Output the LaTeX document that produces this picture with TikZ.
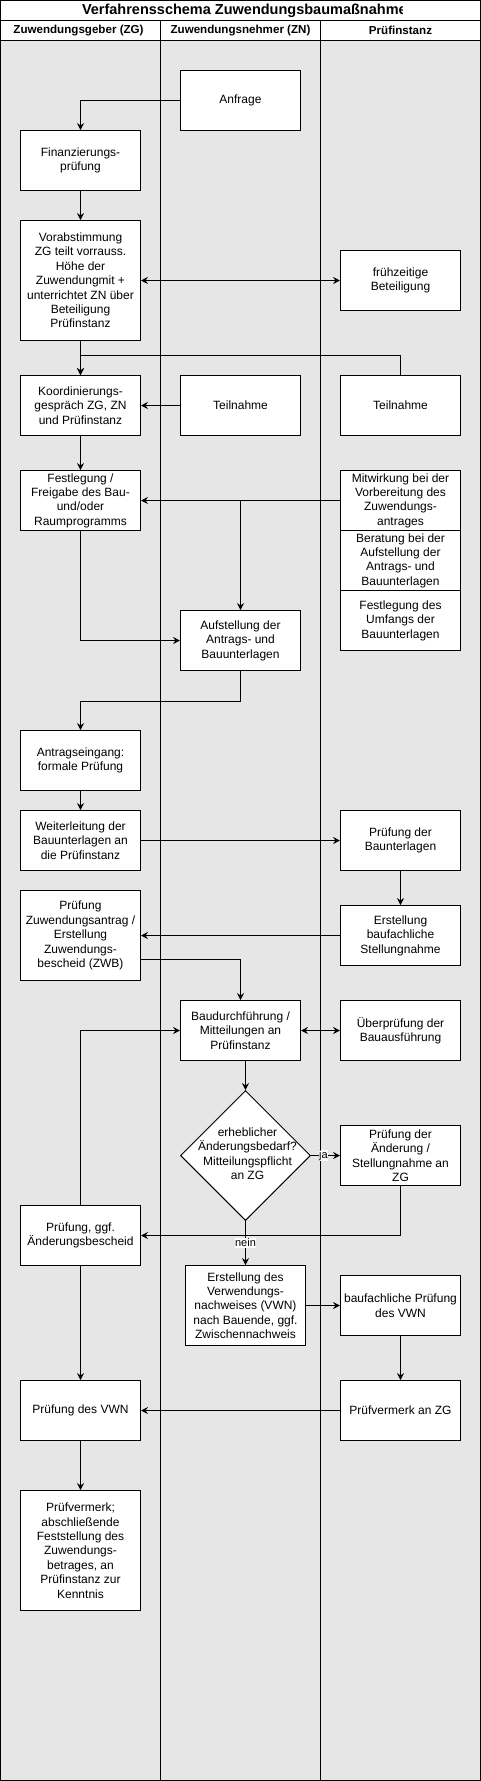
\documentclass[tikz,border=0pt]{standalone}
\usepackage{fontspec}
\setmainfont{Liberation Sans}
\usetikzlibrary{arrows.meta,shapes.geometric}
\definecolor{lanegray}{HTML}{E6E6E6}

\begin{document}
\begin{tikzpicture}[
    x=1pt, y=-1pt, line width=1pt,
    box/.style={draw, fill=white, minimum width=120pt, minimum height=60pt, inner sep=1pt, align=center, font=\fontsize{12}{14.4}\selectfont},
    dec/.style={draw, fill=white, diamond, minimum width=130pt, minimum height=130pt, inner sep=0pt},
    txt/.style={align=center, inner sep=0pt, font=\fontsize{12}{14.4}\selectfont},
    hdr/.style={font=\bfseries\fontsize{11.6}{14}\selectfont},
    arr/.style={-{Stealth[length=7pt, width=7pt, inset=2.5pt]}},
    darr/.style={{Stealth[length=7pt, width=7pt, inset=2.5pt]}-{Stealth[length=7pt, width=7pt, inset=2.5pt]}},
    elbl/.style={fill=white, inner sep=0.5pt, font=\fontsize{11}{13}\selectfont},
  ]
    % Lane centers
    \def\lzg{80}    % Zuwendungsgeber
    \def\lzn{240}   % Zuwendungsnehmer
    \def\lpi{400}   % Pruefinstanz

    \useasboundingbox (-0.5,-0.5) rectangle (480.5,1780.5);

    % === Pool and lanes ===
    \fill[lanegray] (0,40) rectangle (480,1780);
    \draw (0,0) rectangle (480,1780);
    \draw (0,20) -- (480,20);
    \draw (0,40) -- (480,40);
    \draw (160,20) -- (160,1780);
    \draw (320,20) -- (320,1780);

    \begin{scope}
      \clip (0,0) rectangle (402,20);
      \node[font=\bfseries\fontsize{14.5}{16}\selectfont, anchor=west, inner sep=0pt] (title) at (81,10) {Verfahrensschema Zuwendungsbaumaßnahme};
    \end{scope}
    \node[hdr] (hZG) at (78, 30) {Zuwendungsgeber (ZG)};
    \node[hdr] (hZN) at (\lzn, 30) {Zuwendungsnehmer (ZN)};
    \node[hdr] (hPI) at (\lpi, 30) {Prüfinstanz};

    % === Antrag ===
    \node[box] (anfrage) at (\lzn, 100) {Anfrage};
    \node[box] (finanz) at (\lzg, 160) {Finanzierungs-\\prüfung};
    \node[box, minimum height=120pt] (vorab) at (\lzg, 280) {Vorabstimmung\\ZG teilt vorrauss.\\Höhe der\\Zuwendungmit +\\unterrichtet ZN über\\Beteiligung\\Prüfinstanz};
    \node[box] (frueh) at (\lpi, 280) {frühzeitige\\Beteiligung};

    \node[box] (koord) at (\lzg, 405) {Koordinierungs-\\gespräch ZG, ZN\\und Prüfinstanz};
    \node[box] (teilnZN) at (\lzn, 405) {Teilnahme};
    \node[box] (teilnPI) at (\lpi, 405) {Teilnahme};

    \node[box] (fest) at (\lzg, 500) {Festlegung /\\Freigabe des Bau-\\und/oder\\Raumprogramms};
    \node[box] (mitw) at (\lpi, 500) {Mitwirkung bei der\\Vorbereitung des\\Zuwendungs-\\antrages};
    \node[box] (berat) at (\lpi, 560) {Beratung bei der\\Aufstellung der\\Antrags- und\\Bauunterlagen};
    \node[box] (umf) at (\lpi, 620) {Festlegung des\\Umfangs der\\Bauunterlagen};
    \node[box] (aufst) at (\lzn, 640) {Aufstellung der\\Antrags- und\\Bauunterlagen};

    \node[box] (antrag) at (\lzg, 760) {Antragseingang:\\formale Prüfung};
    \node[box] (weiter) at (\lzg, 840) {Weiterleitung der\\Bauunterlagen an\\die Prüfinstanz};
    \node[box] (prbau) at (\lpi, 840) {Prüfung der\\Baunterlagen};
    \node[box] (erstbau) at (\lpi, 935) {Erstellung\\baufachliche\\Stellungnahme};
    \node[box, minimum height=90pt] (pruefzw) at (\lzg, 935) {Prüfung\\Zuwendungsantrag /\\Erstellung\\Zuwendungs-\\bescheid (ZWB)};

    % === Bau ===
    \node[box] (baud) at (\lzn, 1030) {Baudurchführung /\\Mitteilungen an\\Prüfinstanz};
    \node[box] (ueberpr) at (\lpi, 1030) {Überprüfung der\\Bauausführung};
    \node[dec] (dia) at (245, 1155) {};
    \node[txt] (diatxt) at (247, 1153) {erheblicher\\Änderungsbedarf?\\Mitteilungspflicht\\an ZG};
    \node[box] (aender) at (\lpi, 1155) {Prüfung der\\Änderung /\\Stellungnahme an\\ZG};
    \node[box] (pruefggf) at (\lzg, 1235) {Prüfung, ggf.\\Änderungsbescheid};

    % === Verwendungsnachweis ===
    \node[box, minimum height=80pt] (vwn) at (245, 1305) {Erstellung des\\Verwendungs-\\nachweises (VWN)\\nach Bauende, ggf.\\Zwischennachweis};
    \node[box] (baufvwn) at (\lpi, 1305) {baufachliche Prüfung\\des VWN};
    \node[box] (pvzg) at (\lpi, 1410) {Prüfvermerk an ZG};
    \node[box] (pvwn) at (\lzg, 1410) {Prüfung des VWN};
    \node[box, minimum height=120pt] (pvend) at (\lzg, 1550) {Prüfvermerk;\\abschließende\\Feststellung des\\Zuwendungs-\\betrages, an\\Prüfinstanz zur\\Kenntnis};

    % === Connectors ===
    \draw[arr] (anfrage.west) -| (finanz.north);
    \draw[arr] (finanz) -- (vorab);
    \draw[darr] (vorab) -- (frueh);
    \draw[arr] (vorab) -- (koord);
    \draw[arr] (teilnPI.north) -- ++(0,-20) -| (koord.north);
    \draw[arr] (teilnZN) -- (koord);
    \draw[arr] (koord) -- (fest);
    \draw[arr] (mitw) -- (fest);
    \draw[arr] (mitw.west -| aufst.north) -- (aufst);
    \draw[arr] (fest.south) |- (aufst.west);
    \draw[arr] (aufst.south) -- ++(0,30) -| (antrag.north);
    \draw[arr] (antrag) -- (weiter);
    \draw[arr] (weiter) -- (prbau);
    \draw[arr] (prbau) -- (erstbau);
    \draw[arr] (erstbau) -- (pruefzw);
    \draw[arr] ([yshift=22pt]pruefzw.south east) -| (baud.north);
    \draw[darr] (baud) -- (ueberpr);
    \draw[arr] (baud.south -| dia.north) -- (dia.north);
    \draw[arr] (dia.east) -- node[elbl, pos=0.43] (ja) {ja} (aender.west);
    \draw[arr] (aender.south) |- (pruefggf.east);
    \draw[arr] (pruefggf.north) |- (baud.west);
    \draw[arr] (dia.south) -- node[elbl, pos=0.5] (nein) {nein} (vwn.north);
    \draw[arr] (vwn) -- (baufvwn);
    \draw[arr] (baufvwn) -- (pvzg);
    \draw[arr] (pvzg) -- (pvwn);
    \draw[arr] (pruefggf) -- (pvwn);
    \draw[arr] (pvwn) -- (pvend);
  \end{tikzpicture}
\end{document}
